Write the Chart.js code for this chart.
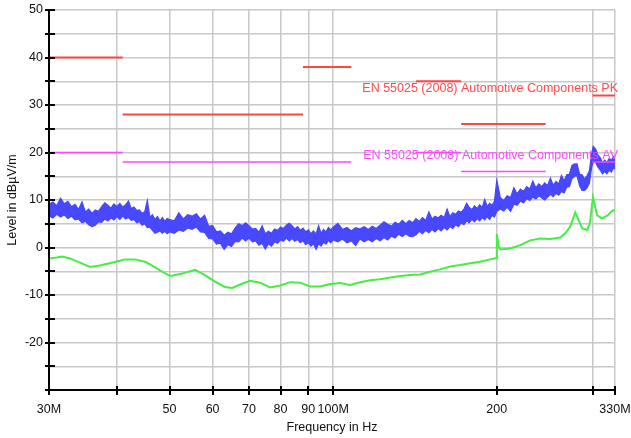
<!DOCTYPE html>
<html>
<head>
<meta charset="utf-8">
<script src="https://cdn.jsdelivr.net/npm/chart.js@4.4.1/dist/chart.umd.min.js"></script>
<style>
  html, body { margin: 0; padding: 0; background: #fff; overflow: hidden; }
  #wrap { width: 631px; height: 438px; position: relative; }
  canvas { display: block; }
</style>
</head>
<body>
<div id="wrap"><canvas id="chart"></canvas></div>
<script>
// frequency axis (MHz) and its labels
const xTickValues = [30, 40, 50, 60, 70, 80, 90, 100, 200, 300, 330];
const xTickLabels = ['30M', '', '50', '60', '70', '80', '90', '100M', '200', '', '330M'];

// EN 55025 limit segments (MHz start/stop, dBµV/m)
const pkStart = [30, 41, 88, 142, 172, 300];
const pkStop  = [41, 88, 108, 172, 246, 330];
const pkLevel = [40, 28, 38, 35, 26, 32];
const avStart = [30, 41, 142, 172, 300];
const avStop  = [41, 108, 172, 246, 330];
const avLevel = [20, 18, 20, 16, 18];

// peak trace (blue): min / max of the sweep at each frequency
const pkFreq = [
  30, 30.5, 31, 31.5, 32, 32.5, 33, 33.5, 34, 34.5, 35, 35.5, 36, 36.5, 37, 37.5, 38, 38.5, 39, 39.5,
  40, 40.5, 41, 41.5, 42, 42.5, 43, 43.5, 44, 44.5, 45, 45.5, 46, 46.5, 47, 47.5, 48, 48.5, 49, 49.5,
  50, 51, 52, 53, 54, 55, 56, 57, 58, 59, 60, 61, 62, 63, 64, 65, 66, 67, 68, 69,
  70, 71, 72, 73, 74, 75, 76, 77, 78, 79, 80, 81, 82, 83, 84, 85, 86, 87, 88, 89,
  90, 91, 92, 93, 94, 95, 96, 97, 98, 99,
  100, 102, 104, 106, 108, 110, 112, 114, 116, 118, 120, 122, 124, 126, 128, 130, 132, 134, 136, 138,
  140, 142, 144, 146, 148, 150, 152, 154, 156, 158, 160, 162, 164, 166, 168, 170, 172, 174, 176, 178,
  180, 182, 184, 186, 188, 190, 192, 194, 196, 198,
  200, 203, 206, 209, 212, 215, 218, 221, 224, 227, 230, 233, 236, 239, 242, 245, 248, 251, 254, 257,
  260, 263, 266, 269, 272, 275, 278, 281, 284, 287, 290, 293, 296, 299, 301, 304, 307, 310, 313, 316,
  319, 322, 325, 328, 330
];
const pkLow = [
  6.6, 6.2, 7.0, 6.4, 6.9, 6.1, 6.6, 5.8, 6.0, 5.2, 5.5, 4.8, 4.4, 4.7, 5.4, 5.3, 6.0, 5.6, 6.2, 5.8,
  6.5, 5.9, 6.6, 6.0, 6.3, 5.7, 5.9, 5.2, 5.5, 4.7, 5.0, 4.2, 4.3, 3.6, 3.0, 3.2, 3.5, 3.0, 3.4, 2.9,
  3.3, 3.0, 3.7, 3.4, 4.1, 3.8, 4.3, 3.3, 3.2, 1.9, 1.8, 0.7, 0.9, -0.4, 0.6, 0.2, 1.3, 1.2, 2.0, 1.4,
  2.0, 1.2, 1.4, 0.5, 0.9, -0.3, 0.8, 0.3, 1.2, 0.9, 1.6, 1.3, 2.0, 1.4, 1.9, 1.3, 1.7, 1.0, 1.4, 0.6,
  1.0, 0.3, 0.8, -0.4, 0.8, 0.3, 1.1, 0.7, 1.5, 1.0,
  1.6, 1.2, 1.8, 1.0, 1.4, 0.4, 1.8, 1.2, 1.7, 1.2, 1.9, 1.4, 2.1, 1.6, 2.4, 2.0, 2.8, 2.3, 2.9, 2.4,
  2.3, 2.7, 3.4, 2.9, 3.6, 3.1, 3.8, 3.3, 4.0, 3.5, 4.2, 3.7, 4.4, 4.0, 4.8, 4.4, 5.2, 4.8, 5.6, 5.2,
  5.9, 5.4, 6.1, 5.6, 6.3, 5.8, 6.5, 5.9, 6.8, 6.4,
  7.6, 8.1, 7.7, 8.5, 7.6, 9.1, 8.9, 9.8, 9.4, 10.3, 9.9, 10.6, 10.2, 10.9, 10.4, 10.0, 10.6, 11.2, 10.7, 11.4,
  11.0, 11.8, 11.5, 12.7, 12.8, 14.5, 15.0, 15.1, 13.0, 12.0, 12.0, 12.5, 13.5, 16.9, 18.2, 17.9, 16.9, 16.3, 15.5, 16.0,
  15.5, 16.3, 15.9, 16.8, 16.5
];
const pkHigh = [
  9.1, 9.6, 8.8, 10.4, 9.2, 9.7, 8.6, 9.1, 8.0, 9.6, 7.5, 8.1, 7.2, 7.9, 7.6, 8.6, 9.4, 8.9, 8.3, 9.2,
  8.6, 9.3, 8.5, 9.0, 9.8, 8.2, 8.5, 7.8, 7.9, 7.2, 7.5, 9.9, 6.4, 6.9, 5.9, 6.5, 5.6, 6.3, 5.5, 6.1,
  5.9, 5.6, 7.3, 6.0, 6.9, 6.6, 7.1, 6.0, 6.8, 4.5, 4.6, 3.3, 3.5, 2.6, 3.2, 2.9, 4.1, 5.0, 4.6, 5.2,
  4.6, 3.9, 4.0, 3.2, 4.6, 2.9, 3.4, 3.0, 3.9, 3.6, 4.3, 4.0, 4.7, 5.1, 4.6, 3.9, 4.4, 3.6, 4.1, 3.3,
  3.7, 2.9, 3.5, 2.8, 4.6, 3.0, 3.8, 3.3, 4.2, 3.7,
  4.3, 5.1, 3.8, 4.2, 3.5, 4.2, 3.9, 4.4, 3.8, 4.5, 4.0, 4.7, 5.4, 4.9, 4.5, 5.3, 4.9, 5.7, 5.0, 5.7,
  5.2, 6.1, 5.5, 6.3, 5.7, 7.5, 6.0, 6.6, 6.2, 6.8, 6.3, 8.1, 6.5, 7.3, 7.0, 7.7, 7.4, 8.1, 9.3, 8.4,
  8.0, 8.8, 8.2, 9.0, 8.4, 10.1, 8.6, 9.3, 8.9, 9.7,
  14.2, 10.5, 9.9, 10.9, 10.5, 12.6, 11.3, 12.3, 11.8, 12.8, 12.3, 14.0, 12.6, 13.4, 12.8, 13.6, 13.0, 14.6, 13.1, 13.9,
  13.4, 15.2, 14.0, 15.3, 15.4, 17.3, 17.6, 17.6, 15.4, 15.3, 14.4, 15.1, 16.1, 19.8, 21.3, 20.7, 19.5, 18.9, 17.9, 18.4,
  17.9, 18.8, 18.3, 19.2, 18.8
];

// average trace (green)
const avFreq = [
  30, 31, 31.7, 32.8, 34.2, 35.7, 37.2, 38.8, 40.5, 41.4, 43.2, 45, 46, 48, 50.1, 52.3, 55.7, 58.1, 60.6, 63.2,
  65.2, 67.4, 70.3, 73.4, 76.5, 79.9, 83.3, 86.9, 90.7, 94.6, 98.7, 103, 107.4, 112.1, 116.9, 122, 127.3, 132.8, 138.6, 144.6,
  150.8, 157.3, 164.2, 171.3, 178.7, 186.4, 194.5, 199.5, 200, 201.5, 203, 211.7, 220.9, 230.4, 240.4, 250.8, 261.7, 267.3, 273, 278.8,
  282.4, 287.2, 293.4, 296.8, 300.6, 305.8, 312.3, 320.3, 325.8, 330
];
const avValue = [
  -2.3, -2.1, -1.9, -2.3, -3.2, -4.1, -3.8, -3.3, -2.8, -2.5, -2.5, -3.0, -3.5, -4.8, -6.0, -5.6, -4.7, -5.8, -7.2, -8.3,
  -8.5, -7.8, -7.0, -7.4, -8.4, -8.0, -7.3, -7.4, -8.2, -8.2, -7.7, -7.5, -7.9, -7.3, -6.9, -6.7, -6.3, -6.0, -5.8, -5.7,
  -5.1, -4.6, -4.0, -3.7, -3.3, -3.0, -2.5, -2.2, 2.8, 0.3, -0.4, -0.2, 0.5, 1.5, 1.9, 1.8, 2.1, 3.0, 4.4, 7.4,
  5.9, 4.0, 3.7, 5.3, 10.6, 6.8, 6.1, 6.8, 7.7, 7.9
];

function segments(start, stop, level) {
  const pts = [];
  start.forEach((s, i) => {
    pts.push({ x: s, y: level[i] }, { x: stop[i], y: level[i] }, { x: stop[i], y: null });
  });
  return pts;
}

const pairs = (fx, fy) => fx.map((f, i) => ({ x: f, y: fy[i] }));

// no extra room for overhanging tick labels
function fixBox(s, w, h) {
  if (w) s.width = w;
  if (h) s.height = h;
  s.paddingLeft = s.paddingRight = s.paddingTop = s.paddingBottom = 0;
}

const limitLabels = {
  id: 'limitLabels',
  afterDatasetsDraw(chart) {
    const { ctx, chartArea: a, scales: { y } } = chart;
    ctx.save();
    ctx.font = '12.5px "Liberation Sans", Arial, sans-serif';
    ctx.textAlign = 'right';
    ctx.textBaseline = 'middle';
    ctx.fillStyle = '#ff4a4a';
    ctx.fillText('EN 55025 (2008) Automotive Components PK', a.right + 3, y.getPixelForValue(pkLevel[pkLevel.length - 1]) - 7);
    ctx.fillStyle = '#ff4aff';
    ctx.fillText('EN 55025 (2008) Automotive Components AV', a.right + 3, y.getPixelForValue(avLevel[avLevel.length - 1]) - 6);
    ctx.restore();
  }
};

const axesFrame = {
  id: 'axesFrame',
  afterDraw(chart) {
    const { ctx, chartArea: a, scales: { x, y } } = chart;
    ctx.save();
    ctx.strokeStyle = '#000';
    ctx.lineWidth = 2;
    ctx.beginPath();
    ctx.moveTo(a.left, a.top);
    ctx.lineTo(a.left, a.bottom);
    ctx.lineTo(a.right, a.bottom);
    y.ticks.forEach(t => {
      const py = Math.round(y.getPixelForValue(t.value));
      ctx.moveTo(a.left - 4, py); ctx.lineTo(a.left + 6, py);
    });
    xTickValues.forEach(f => {
      const px = Math.round(x.getPixelForValue(f));
      ctx.moveTo(px, a.bottom - 4); ctx.lineTo(px, a.bottom + 5);
    });
    ctx.stroke();

    // axis titles
    ctx.fillStyle = '#111';
    ctx.font = '12.5px "Liberation Sans", Arial, sans-serif';
    ctx.textAlign = 'center';
    ctx.textBaseline = 'middle';
    ctx.fillText('Frequency in Hz', (a.left + a.right) / 2, 428);
    ctx.translate(13, (a.top + a.bottom) / 2);
    ctx.rotate(-Math.PI / 2);
    ctx.fillText('Level in dBµV/m', 0, 0);
    ctx.restore();
  }
};

new Chart(document.getElementById('chart'), {
  type: 'line',
  data: {
    datasets: [
      { data: segments(pkStart, pkStop, pkLevel), borderColor: '#ff4545', borderWidth: 2, spanGaps: false },
      { data: segments(avStart, avStop, avLevel), borderColor: '#ff45ff', borderWidth: 1.5, spanGaps: false },
      { data: pairs(avFreq, avValue), borderColor: '#44ee44', borderWidth: 2 },
      { data: pairs(pkFreq, pkLow), borderColor: '#4646ff', borderWidth: 1.2 },
      { data: pairs(pkFreq, pkHigh), borderColor: '#4646ff', borderWidth: 1.2, fill: '-1', backgroundColor: '#4848ff' }
    ]
  },
  options: {
    responsive: true,
    maintainAspectRatio: false,
    animation: false,
    layout: { autoPadding: false, padding: { top: 10, right: 16, left: 0, bottom: 0 } },
    elements: { point: { radius: 0 }, line: { tension: 0 } },
    plugins: { legend: { display: false }, tooltip: { enabled: false }, filler: { propagate: false } },
    scales: {
      x: {
        type: 'logarithmic',
        min: 30, max: 330,
        afterBuildTicks: s => { s.ticks = xTickValues.map(v => ({ value: v })); },
        afterFit: s => fixBox(s, 0, 48),
        ticks: {
          autoSkip: false, maxRotation: 0, padding: 12,
          color: '#111', font: { size: 12.5, family: '"Liberation Sans", Arial, sans-serif' },
          callback: (v, i) => xTickLabels[i]
        },
        grid: { color: '#c8c8c8', lineWidth: 1.5, drawTicks: false },
        border: { display: false }
      },
      y: {
        min: -30, max: 50,
        afterFit: s => fixBox(s, 49, 0),
        ticks: {
          stepSize: 5, padding: 6,
          color: '#111', font: { size: 12.5, family: '"Liberation Sans", Arial, sans-serif' },
          callback: v => (v % 10 === 0 && v > -30) ? v : ''
        },
        grid: { color: '#c8c8c8', lineWidth: 1.5, drawTicks: false },
        border: { display: false }
      }
    }
  },
  plugins: [limitLabels, axesFrame]
});
</script>
</body>
</html>
